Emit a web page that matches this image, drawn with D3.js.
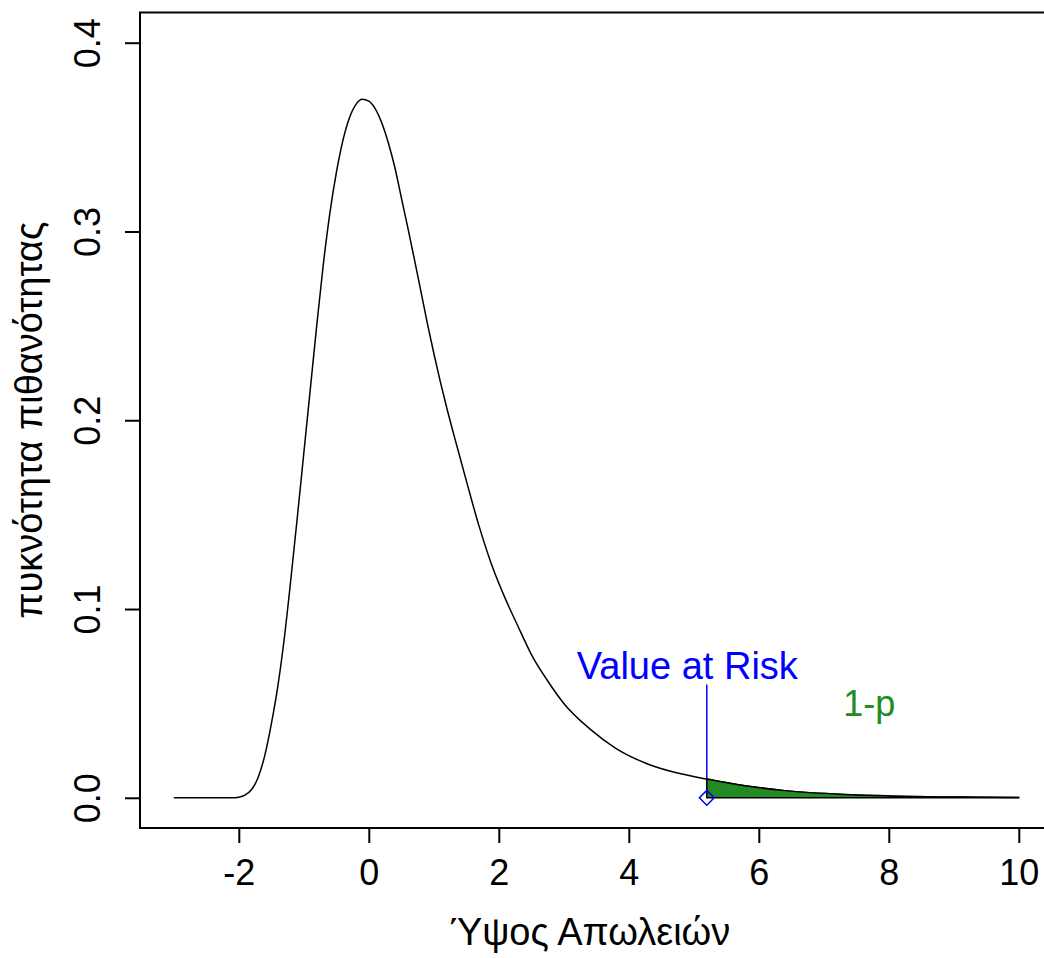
<!DOCTYPE html>
<html>
<head>
<meta charset="utf-8">
<script src="https://cdn.jsdelivr.net/npm/d3@7"></script>
<style>
  body { margin: 0; background: #fff; }
  svg { display: block; font-family: "Liberation Sans", Arial, sans-serif; }
</style>
</head>
<body>
<div id="chart"></div>
<script>
// density curve
var curveX = [-3, -2.5, -2.1, -2.0, -1.9, -1.8, -1.7, -1.6, -1.5, -1.4, -1.3, -1.2, -1.1,
  -1.0, -0.9, -0.8, -0.7, -0.6, -0.5, -0.4, -0.3, -0.2, -0.1, 0.0, 0.1, 0.2, 0.3, 0.4,
  0.5, 0.6, 0.7, 0.8, 0.9, 1.0, 1.1, 1.2, 1.35, 1.5, 1.7, 1.9, 2.1, 2.3, 2.5, 2.75, 3.0,
  3.4, 3.8, 4.3, 4.8, 5.2, 5.4, 5.9, 6.4, 7.3, 8.0, 9.4, 10];
var curveY = [0, 0, 0, 0.0003, 0.0015, 0.0045, 0.011, 0.0225, 0.039, 0.059, 0.0845, 0.1155,
  0.1485, 0.1825, 0.2165, 0.2505, 0.2825, 0.3095, 0.331, 0.348, 0.36, 0.3672, 0.370, 0.369,
  0.365, 0.3575, 0.347, 0.334, 0.318, 0.302, 0.2855, 0.2685, 0.2515, 0.2355, 0.2205, 0.2065,
  0.187, 0.168, 0.1435, 0.1225, 0.1055, 0.0905, 0.076, 0.062, 0.050, 0.0365, 0.0262, 0.0178,
  0.0127, 0.0099, 0.0086, 0.0058, 0.0038, 0.0018, 0.0010, 0.0003, 0.0001];

var xTicks = [-2, 0, 2, 4, 6, 8, 10];
var yTicks = [0, 0.1, 0.2, 0.3, 0.4];
var yTickLabels = ["0.0", "0.1", "0.2", "0.3", "0.4"];

var varValue = 5.2;      // Value at Risk
var varLineTop = 0.06;
var varLabel = "Value at Risk";
var varLabelPos = [4.9, 0.07];
var tailLabel = "1-p";
var tailLabelPos = [7.7, 0.05];

var xTitle = "Ύψος Απωλειών";
var yTitle = "πυκνότητα πιθανότητας";

var W = 1044, H = 958;
var x = d3.scaleLinear().domain([-3.52, 10.52]).range([140, 1052.6]);
var y = d3.scaleLinear().domain([-0.016, 0.416]).range([828, 12.5]);

var svg = d3.select("#chart").append("svg")
  .attr("width", W)
  .attr("height", H);

var pts = curveX.map(function (v, i) { return { x: v, y: curveY[i] }; });

// blue VaR line
svg.append("line")
  .attr("x1", x(varValue)).attr("x2", x(varValue))
  .attr("y1", y(0)).attr("y2", y(varLineTop))
  .style("stroke", "#0000ff")
  .style("stroke-width", "1.5px");

// the curve
var line = d3.line()
  .x(function (d) { return x(d.x); })
  .y(function (d) { return y(d.y); })
  .curve(d3.curveMonotoneX);

svg.append("path")
  .datum(pts)
  .attr("d", line)
  .style("fill", "none")
  .style("stroke", "#000")
  .style("stroke-width", "1.5px");

// tail area beyond VaR
var tail = pts.filter(function (d) { return d.x >= varValue; });
var area = d3.area()
  .x(function (d) { return x(d.x); })
  .y0(y(0))
  .y1(function (d) { return y(d.y); })
  .curve(d3.curveMonotoneX);

svg.append("path")
  .datum(tail)
  .attr("d", function (d) { return area(d) + "Z"; })
  .style("fill", "#228b22")
  .style("stroke", "#000")
  .style("stroke-width", "1.5px");

// diamond marker at VaR
svg.append("path")
  .attr("d", d3.symbol().type(d3.symbolSquare).size(110)())
  .attr("transform", "translate(" + x(varValue) + "," + y(0) + ") rotate(45)")
  .style("fill", "none")
  .style("stroke", "#0000ff")
  .style("stroke-width", "1.5px");

// texts in the plot
svg.append("text")
  .attr("x", x(varLabelPos[0]))
  .attr("y", y(varLabelPos[1]))
  .attr("dy", "0.35em")
  .attr("text-anchor", "middle")
  .style("font-size", "38px")
  .style("fill", "#0000ff")
  .text(varLabel);

svg.append("text")
  .attr("x", x(tailLabelPos[0]))
  .attr("y", y(tailLabelPos[1]))
  .attr("dy", "0.35em")
  .attr("text-anchor", "middle")
  .style("font-size", "36px")
  .style("fill", "#228b22")
  .text(tailLabel);

// box
svg.append("rect")
  .attr("x", x.range()[0])
  .attr("y", y.range()[1])
  .attr("width", x.range()[1] - x.range()[0])
  .attr("height", y.range()[0] - y.range()[1])
  .style("fill", "none")
  .style("stroke", "#000")
  .style("stroke-width", "2px");

// x axis
var gx = svg.append("g")
  .attr("transform", "translate(0," + y.range()[0] + ")")
  .call(d3.axisBottom(x).tickValues(xTicks).tickSize(15).tickSizeOuter(0)
    .tickFormat(function (d) { return String(d); }));
gx.select(".domain").remove();
gx.selectAll(".tick line").style("stroke", "#000").style("stroke-width", "2px");
gx.selectAll(".tick text")
  .attr("dy", null)
  .attr("y", 57)
  .style("font-size", "36px")
  .style("font-family", "Liberation Sans, Arial, sans-serif")
  .style("fill", "#000");

// y axis
var gy = svg.append("g")
  .attr("transform", "translate(" + x.range()[0] + ",0)")
  .call(d3.axisLeft(y).tickValues(yTicks).tickSize(15).tickSizeOuter(0)
    .tickFormat(function (d, i) { return yTickLabels[i]; }));
gy.select(".domain").remove();
gy.selectAll(".tick line").style("stroke", "#000").style("stroke-width", "2px");
gy.selectAll(".tick text")
  .attr("x", null).attr("dy", null)
  .attr("transform", "translate(-40,0) rotate(-90)")
  .attr("text-anchor", "middle")
  .style("font-size", "36px")
  .style("font-family", "Liberation Sans, Arial, sans-serif")
  .style("fill", "#000");

// axis titles
svg.append("text")
  .attr("x", 590)
  .attr("y", 945)
  .attr("text-anchor", "middle")
  .style("font-size", "38px")
  .text(xTitle);

svg.append("text")
  .attr("transform", "translate(42," + (y.range()[0] + y.range()[1]) / 2 + ") rotate(-90)")
  .attr("text-anchor", "middle")
  .style("font-size", "38px")
  .text(yTitle);
</script>
</body>
</html>
